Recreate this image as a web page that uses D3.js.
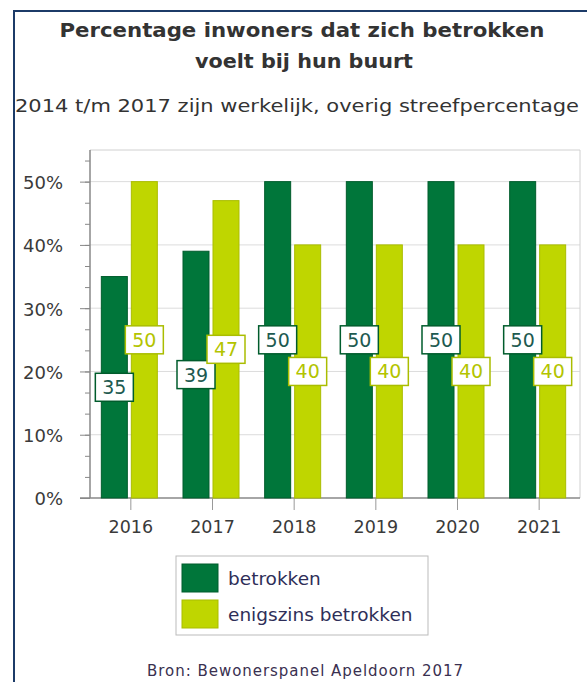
<!DOCTYPE html>
<html>
<head>
<meta charset="utf-8">
<script src="https://cdn.jsdelivr.net/npm/d3@7"></script>
<style>
  body { margin: 0; background: #fff; }
  text { font-family: "DejaVu Sans", Verdana, sans-serif; }
</style>
</head>
<body>
<div id="chart"></div>
<script>
// chart data
var years = ["2016", "2017", "2018", "2019", "2020", "2021"];
var betrokken = [35, 39, 50, 50, 50, 50];
var enigszins = [50, 47, 40, 40, 40, 40];
var seriesNames = ["betrokken", "enigszins betrokken"];
var yTicks = [0, 10, 20, 30, 40, 50];

var svgWidth = 587;
var svgHeight = 682;

// plot area
var margin = { top: 150, right: 7, bottom: 184, left: 90 };
var width = svgWidth - margin.left - margin.right;
var height = svgHeight - margin.top - margin.bottom;

var darkFill = "#00763a", darkStroke = "#005c2c", darkText = "#1d5a50";
var lightFill = "#bfd600", lightStroke = "#aabd00", lightText = "#b3c400";

var svg = d3.select("#chart")
  .append("svg")
  .attr("width", svgWidth)
  .attr("height", svgHeight);

// outer frame (left + top)
svg.append("path")
  .attr("d", "M14,682 L14,11 L587,11")
  .attr("fill", "none")
  .attr("stroke", "#1c3b68")
  .attr("stroke-width", 2);

// titles
svg.append("text")
  .attr("x", 302).attr("y", 37)
  .attr("text-anchor", "middle")
  .attr("font-size", 19).attr("font-weight", "bold").attr("fill", "#333")
  .attr("textLength", 485).attr("lengthAdjust", "spacingAndGlyphs")
  .text("Percentage inwoners dat zich betrokken");

svg.append("text")
  .attr("x", 304).attr("y", 68)
  .attr("text-anchor", "middle")
  .attr("font-size", 19).attr("font-weight", "bold").attr("fill", "#333")
  .attr("textLength", 218).attr("lengthAdjust", "spacingAndGlyphs")
  .text("voelt bij hun buurt");

svg.append("text")
  .attr("x", 297).attr("y", 112)
  .attr("text-anchor", "middle")
  .attr("font-size", 18).attr("fill", "#333")
  .attr("textLength", 564).attr("lengthAdjust", "spacingAndGlyphs")
  .text("2014 t/m 2017 zijn werkelijk, overig streefpercentage");

var chartGroup = svg.append("g")
  .attr("transform", `translate(${margin.left}, ${margin.top})`);

// scales
var xScale = d3.scaleBand()
  .domain(years)
  .range([0, width]);

var yScale = d3.scaleLinear()
  .domain([0, 55])
  .range([height, 0]);

// gridlines
chartGroup.selectAll(".grid")
  .data(yTicks.slice(1))
  .enter()
  .append("line")
  .attr("x1", 0).attr("x2", width)
  .attr("y1", d => yScale(d)).attr("y2", d => yScale(d))
  .attr("stroke", "#dcdcdc");

// plot border top/right
chartGroup.append("path")
  .attr("d", `M0,0 L${width},0 L${width},${height}`)
  .attr("fill", "none")
  .attr("stroke", "#d0d0d0");

// minor ticks every 1/3 of 10%
var minorTicks = d3.range(0, 54, 10 / 3);
var minorAxis = d3.axisLeft(yScale)
  .tickValues(minorTicks)
  .tickSize(5)
  .tickFormat("");
chartGroup.append("g")
  .call(minorAxis)
  .call(g => g.select(".domain").remove())
  .call(g => g.selectAll("line").attr("stroke", "#888"));

var leftAxis = d3.axisLeft(yScale)
  .tickValues(yTicks)
  .tickSize(10)
  .tickPadding(17)
  .tickFormat(d => d + "%");
chartGroup.append("g")
  .call(leftAxis)
  .call(g => g.select(".domain").attr("d", `M0,0 L0,${height}`).attr("stroke", "#888").attr("stroke-width", 1.5))
  .call(g => g.selectAll("line").attr("stroke", "#888"))
  .call(g => g.selectAll("text").attr("font-size", 18).attr("fill", "#3a3a3a")
    .attr("font-family", "DejaVu Sans").attr("dy", "0.38em"));

var bottomAxis = d3.axisBottom(xScale)
  .tickSize(12)
  .tickPadding(10);
chartGroup.append("g")
  .attr("transform", `translate(0, ${height})`)
  .call(bottomAxis)
  .call(g => g.select(".domain").attr("d", `M-10,0 L${width},0`).attr("stroke", "#888").attr("stroke-width", 1.5))
  .call(g => g.selectAll("line").attr("stroke", "#999"))
  .call(g => g.selectAll("text").attr("font-size", 17.5).attr("fill", "#3a3a3a")
    .attr("font-family", "DejaVu Sans").attr("dy", "0.75em"));

// bars
var barW = 26;
function cx(i) { return xScale(years[i]) + xScale.bandwidth() / 2; }

var series = [
  { values: betrokken, off: -29.5, fill: darkFill, stroke: darkStroke, text: darkText },
  { values: enigszins, off: 0.5, fill: lightFill, stroke: lightStroke, text: lightText }
];

series.forEach(function(s) {
  chartGroup.selectAll(null)
    .data(s.values)
    .enter()
    .append("rect")
    .attr("x", (d, i) => cx(i) + s.off)
    .attr("y", d => yScale(d))
    .attr("width", barW)
    .attr("height", d => height - yScale(d))
    .attr("fill", s.fill)
    .attr("stroke", s.stroke)
    .attr("stroke-width", 1);
});

// value labels
series.forEach(function(s) {
  var lab = chartGroup.selectAll(null)
    .data(s.values)
    .enter()
    .append("g")
    .attr("transform", (d, i) => `translate(${cx(i) + s.off + barW / 2}, ${(yScale(d) + height) / 2})`);
  lab.append("rect")
    .attr("x", -19).attr("y", -14)
    .attr("width", 38).attr("height", 28)
    .attr("fill", "#fff")
    .attr("stroke", s.stroke)
    .attr("stroke-width", 1.5);
  lab.append("text")
    .attr("text-anchor", "middle")
    .attr("y", 7)
    .attr("font-size", 19)
    .attr("fill", s.text)
    .text(d => d);
});

// legend
var legend = svg.append("g").attr("transform", "translate(176, 556)");
legend.append("rect")
  .attr("width", 252).attr("height", 79)
  .attr("fill", "#fff").attr("stroke", "#bbb");
var legendItems = legend.selectAll(".item")
  .data(seriesNames)
  .enter()
  .append("g")
  .attr("transform", (d, i) => `translate(6, ${8 + i * 36})`);
legendItems.append("rect")
  .attr("width", 36).attr("height", 28)
  .attr("fill", (d, i) => series[i].fill)
  .attr("stroke", (d, i) => series[i].stroke);
legendItems.append("text")
  .attr("x", 46).attr("y", 21)
  .attr("font-size", 18.5).attr("fill", "#2e2e58")
  .text(d => d);

// source
svg.append("text")
  .attr("x", 305).attr("y", 676)
  .attr("text-anchor", "middle")
  .attr("font-size", 15).attr("fill", "#3a3050")
  .attr("textLength", 316).attr("lengthAdjust", "spacing")
  .text("Bron: Bewonerspanel Apeldoorn 2017");
</script>
</body>
</html>
